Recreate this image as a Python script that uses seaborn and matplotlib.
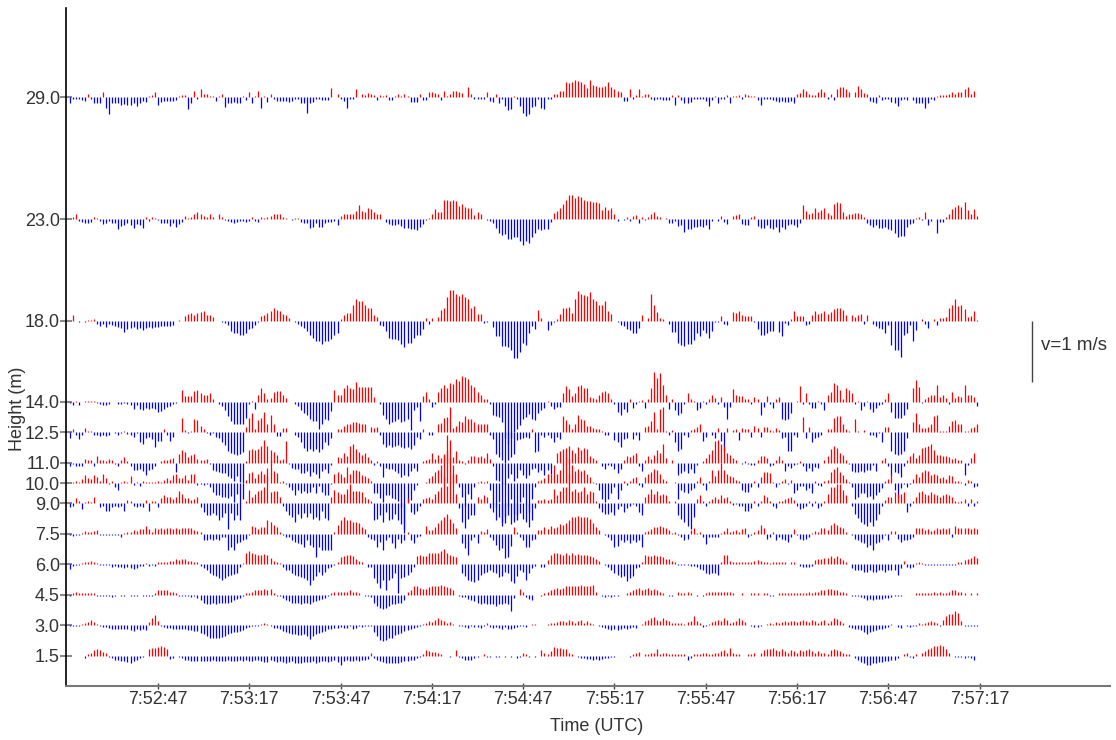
import numpy as np
import matplotlib
matplotlib.use("Agg")
import matplotlib.pyplot as plt
import seaborn as sns

# ---------------- data ----------------
heights = [29.0, 23.0, 18.0, 14.0, 12.5, 11.0, 10.0, 9.0, 7.5, 6.0, 4.5, 3.0, 1.5]
height_labels = ["29.0", "23.0", "18.0", "14.0", "12.5", "11.0", "10.0",
                 "9.0", "7.5", "6.0", "4.5", "3.0", "1.5"]
start_clock = (7, 52, 17)        # time origin of the x axis (UTC)
first_sample_s = 1.0             # first sample, seconds after origin
sample_dt_s = 1.0                # 1 Hz
tick_seconds = [30, 60, 90, 120, 150, 180, 210, 240, 270, 300]
height_per_ms = 3.0              # m of height axis per 1 m/s of velocity

# vertical velocity in cm/s, one value per second
w290 = [
 -9,-2,-3,-2,-4,-6,5,-2,-9,-9, -9,8,-17,-27,-10,-9,-10,-13,-11,-12,
 -13,-9,-14,-9,-6,-7,2,4,8,-13, -8,-6,-6,-6,-6,-4,2,3,3,-19,
 -10,10,-3,14,6,5,2,2,-6,2, 5,-16,-10,-9,-8,-9,-10,2,-4,8,
 -10,2,11,-17,2,-7,5,-3,-6,-6, -6,-6,-7,-6,-3,-3,-9,-10,-25,-9,
 -7,-3,-3,-4,-5,-5,16,0,6,-3, -6,-17,-3,-2,14,1,5,4,7,5,
 3,-5,3,2,4,-5,-5,2,6,2, 6,2,-7,-8,-8,5,-5,-5,9,8,
 7,6,-5,11,2,5,10,11,9,7, 0,17,5,-2,-3,-3,-3,8,-6,-7,
 5,-10,-2,-15,-21,-20,2,-3,-14,-26, -30,-28,-16,-15,-3,-18,-20,-2,-3,5,
 5,10,10,25,24,25,28,26,25,22, 15,28,20,18,17,17,18,25,17,13,
 10,8,-6,-6,14,-3,4,14,2,5, 5,-2,-5,-3,-3,-4,-4,-4,3,-13,
 4,-5,-9,-9,-7,-2,-2,-2,-3,-6, -15,-5,2,-9,-2,-2,3,-9,2,2,
 3,-3,5,4,2,2,-5,-13,-3,-2, -3,-4,-6,-8,-6,-7,-7,-6,-9,5,
 7,13,10,5,3,3,9,14,9,-3, 6,-5,13,17,17,13,9,0,8,18,
 14,7,5,-6,-8,-10,4,-5,-3,-3, -8,-10,-15,-5,-2,-5,0,-5,-9,-9,
 -10,-17,-9,-2,-5,2,3,3,4,5, 8,6,9,9,13,17,6,10,0]
w230 = [
 1,4,8,-3,-4,-7,-7,-4,3,2, -3,-8,-7,-3,-6,-6,-17,-11,-10,-7,
 -9,-14,-8,-10,-14,4,-3,3,2,-2, -7,-7,-7,-11,-7,-13,-8,-4,5,2,
 3,9,12,9,5,4,8,4,0,8, 3,-2,-3,-5,-7,-5,-3,-3,-4,-3,
 3,-3,-4,3,2,3,5,9,9,8, 3,2,0,-1,2,2,-4,-6,-6,-14,
 -13,-6,-13,-13,-7,-5,-4,-3,-10,5, 8,9,8,9,14,23,14,12,19,16,
 12,8,8,0,-4,-8,-10,-10,-8,-11, -14,-15,-17,-17,-18,-13,-8,-2,2,8,
 16,12,11,31,31,30,32,30,21,25, 20,19,19,6,11,8,0,-2,-3,-7,
 -14,-23,-26,-24,-32,-33,-29,-30,-36,-43, -36,-39,-29,-23,-17,-18,-17,-16,-4,10,
 14,19,25,31,39,39,34,38,36,31, 30,30,28,28,27,15,20,15,18,8,
 -3,1,-2,4,-3,5,6,-6,4,-2, 4,9,12,5,4,0,2,-6,-6,-3,
 -11,-10,-21,-17,-17,-13,-13,-11,-13,-10, -16,-3,0,-3,5,-4,-8,0,5,6,
 9,-8,-10,-10,3,5,-11,-14,-14,-10, -15,-16,-13,-21,-13,-16,-10,-8,-10,-13,
 -6,23,14,8,10,19,12,15,19,10, 6,24,28,27,12,5,9,8,10,10,
 9,4,-6,-10,-13,-10,-14,-15,-13,-17, -18,-23,-30,-27,-27,-13,-8,-7,2,3,
 -2,12,-10,-3,0,-22,-4,-4,4,9, 17,20,23,20,28,15,8,17,5]
w180 = [
 -1,10,0,-2,0,-2,1,1,2,-5, -9,-5,-10,-5,-8,-9,-10,-12,-19,-13,
 -12,-11,-13,-12,-16,-12,-11,-12,-11,-11, -9,-9,-9,-9,-8,0,1,0,7,11,
 13,10,12,14,15,10,10,6,0,-1, -2,-4,-8,-17,-20,-21,-23,-24,-20,-13,
 -12,-7,-2,7,10,13,15,21,17,15, 11,9,5,0,-2,-5,-9,-12,-17,-24,
 -28,-33,-33,-38,-33,-34,-30,-24,-20,3, 10,13,12,26,35,33,32,26,21,21,
 9,6,-8,-9,-17,-28,-31,-31,-32,-39, -44,-36,-37,-28,-24,-23,-14,4,-5,4,
 0,6,17,21,39,50,51,43,40,44, 38,35,21,24,11,11,-4,-2,0,-10,
 -25,-25,-42,-42,-43,-49,-61,-61,-51,-36, -40,-20,-9,-13,17,5,0,-15,-8,-2,
 3,11,21,21,22,13,35,48,44,42, 40,47,35,32,26,25,33,15,11,0,
 -2,-7,-9,-14,-16,-20,-20,-12,10,0, 5,43,26,14,5,3,0,-5,-19,-19,
 -36,-40,-41,-39,-38,-32,-21,-25,-16,-21, -28,-17,-2,-2,7,-5,-8,0,14,13,
 15,9,8,8,8,-2,-14,-23,-24,-21, -17,-17,0,-19,-26,-4,-8,3,15,7,
 7,8,-7,-5,9,15,11,13,15,11, 14,19,20,20,17,9,0,10,6,10,
 11,-5,9,0,-5,-9,-12,-14,-20,-8, -40,-49,-49,-60,-24,-21,-8,-34,-16,0,
 2,-5,-12,0,2,-8,4,5,6,21, 26,35,24,25,19,6,8,15,1]
w140 = [
 -2,-6,1,-5,0,2,2,2,2,-2, -3,-5,-5,-3,-1,0,-3,-3,-2,-3,
 -5,-11,-5,-11,-13,-10,-12,-10,-11,-16, -15,-11,-8,-7,-3,-2,0,19,9,9,
 10,17,19,15,11,11,14,5,0,-4, -7,-14,-24,-32,-36,-36,-37,-37,-27,-4,
 2,-11,11,23,15,4,7,16,17,17, 11,7,0,0,-4,-7,-14,-19,-22,-28,
 -31,-32,-45,-36,-28,-30,-15,19,12,11, 22,27,22,21,33,24,24,24,24,24,
 8,-1,-3,-21,-28,-37,-33,-31,-28,-33, -31,-28,-47,-14,-8,-31,10,16,5,-8,
 -3,16,22,27,23,31,30,37,34,42, 40,37,28,25,16,11,4,5,-4,-22,
 -23,-25,-33,-60,-70,-60,-50,-45,-38,-28, -25,-20,-28,-30,-18,-14,-10,2,-7,-11,
 -8,-8,15,26,21,10,14,26,27,23, 23,8,7,4,11,16,17,15,5,-3,
 -16,-21,-12,-16,4,-10,-4,1,3,-10, 5,23,49,39,48,28,11,-11,4,-14,
 -21,-19,-3,14,4,1,-14,-10,1,-4, 5,12,7,-4,8,-8,-28,-8,21,11,
 10,10,4,4,-3,8,4,-21,-8,9, -3,-10,4,8,-28,-30,-28,-19,0,1,
 26,-3,14,-3,-10,-10,2,-3,-14,11, 16,31,28,19,4,22,19,15,-4,2,
 -14,-7,2,-12,-16,-10,-5,-4,4,15, -16,-27,-27,-26,-21,-12,0,22,36,24,
 -2,4,8,12,11,27,8,11,7,-4, 16,7,10,8,28,11,11,8,-7]
w125 = [
 -9,6,-5,-11,-5,7,2,2,-4,-5, -6,-5,-6,-4,0,-2,-4,-2,2,-3,
 -4,-8,-2,-16,-19,-9,-8,-11,-24,-15, -15,5,-5,-15,-8,0,0,24,4,-2,
 2,21,20,10,5,-2,-4,-2,-8,-9, -16,-21,-30,-34,-36,-38,-35,-33,9,23,
 31,5,20,23,34,14,29,14,-6,-6, 7,7,0,0,-5,-8,-16,-26,-30,-28,
 -30,-27,-32,-28,-16,-21,-9,0,5,5, 11,13,14,17,17,16,13,13,0,9,
 7,8,-5,-19,-24,-21,-24,-22,-21,-24, -26,-25,-28,-21,-8,-11,5,0,-5,-5,
 0,13,16,23,25,41,7,10,19,17, 27,21,22,17,13,13,13,13,-5,-11,
 -35,-40,-45,-50,-45,-40,-35,-13,-11,-9, -8,-9,5,-32,-30,-5,-8,-5,-9,-16,
 -8,-11,27,20,13,6,14,29,22,20, 11,10,7,6,5,2,-4,-4,0,-13,
 -16,-24,-11,-9,0,-11,-5,-13,0,9, 10,18,34,6,39,41,2,-5,3,-16,
 -30,-28,-5,-8,3,6,9,14,-15,-8, 1,-5,-9,7,-15,-30,7,0,3,6,
 -13,7,6,5,-8,11,7,-8,9,9, 3,2,7,3,-9,-8,-30,-30,-5,-8,
 1,25,-9,9,-16,-10,-8,-5,0,5, 5,23,27,27,13,5,2,0,21,2,
 0,3,0,-4,-4,-8,-2,-16,9,9, -30,-35,-38,-35,-30,-10,0,17,31,14,
 7,7,9,13,27,29,2,2,2,11, 18,20,13,13,2,2,7,9,13]
w110 = [
 -5,-2,-5,-6,-5,6,4,4,-5,11, 4,4,2,6,4,-2,-5,4,10,2,
 -5,-12,-12,-10,-13,-20,-12,-11,-5,0, 2,4,4,6,8,-16,15,21,18,10,
 13,14,6,4,4,6,-2,-12,-13,-16, -17,-17,-22,-25,-30,-22,-32,-33,2,21,
 22,21,22,27,37,27,21,18,13,5, 6,35,-2,-8,-10,-11,-17,-17,-14,-22,
 -16,-19,-25,-14,-10,-17,-3,0,10,8, 16,11,27,31,22,18,13,16,10,5,
 -3,2,-5,-24,-8,-11,-11,-14,-17,-24, -20,-22,-13,-9,-13,0,2,4,6,16,
 6,13,8,13,45,38,9,19,4,2, -2,4,11,11,10,11,8,16,6,-6,
 -28,-30,-35,-35,-25,-18,-30,-25,-12,-20, -25,-20,-10,-8,-15,-12,-20,-12,-18,0,
 16,19,22,24,28,21,16,26,21,24, 22,11,8,4,0,-6,-10,-3,-6,-10,
 -17,-11,4,11,10,13,16,-5,-14,4, 11,6,13,21,16,31,8,0,5,0,
 -20,-17,-14,-17,-11,-17,-3,0,2,8, 15,21,35,38,30,28,16,13,8,4,
 0,-2,2,-2,-3,-3,4,11,11,8, -6,-3,4,11,4,-13,-5,-9,-3,-2,
 2,-5,-13,-8,-13,-7,-8,0,4,11, 22,27,24,16,13,4,-2,-13,-15,-15,
 -13,-15,-12,-12,-3,-13,0,5,8,-6, -20,-16,-17,-24,-5,4,11,16,8,13,
 24,26,27,31,21,13,13,11,11,10, 6,8,4,4,-20,-3,8,16,0]
w100 = [
 0,2,3,1,7,13,9,7,13,10, 4,14,9,-2,3,-7,-11,2,4,2,
 11,-4,1,-5,3,2,1,1,2,3, 2,5,9,5,13,15,9,9,13,5,
 15,15,-4,-1,-4,-2,-7,-15,-20,-19, -23,-23,-24,-22,-31,-18,-34,-26,5,16,
 18,9,15,20,14,25,37,20,16,2, 4,-2,-7,-11,-19,-12,-17,-13,-17,-15,
 -7,-17,-5,-15,-20,-20,-2,15,18,15, 10,26,15,22,21,20,13,11,9,4,
 -17,-17,-24,-31,-20,-20,-24,-27,-30,-39, -75,-31,-28,-12,-4,0,0,2,9,11,
 18,22,29,48,54,43,29,15,-7,-23, -37,-18,-26,-7,2,3,2,4,-12,-34,
 -39,-31,-64,-56,-37,-26,-64,-53,-31,-23, -34,-48,-27,-7,3,5,9,15,15,29,
 15,22,34,43,40,29,20,23,20,22, 15,10,2,-1,-12,-26,-31,-26,-17,-7,
 -27,-12,4,-4,4,9,10,-4,-7,10, 15,18,23,21,15,7,3,0,0,2,
 -26,-12,-15,-17,-12,-9,3,10,-4,-11, 4,21,11,21,33,21,15,11,10,5,
 4,-12,-15,-15,-7,3,-7,10,18,18, 16,2,-7,-2,3,7,-1,5,-17,-12,
 -5,-5,-12,-9,-17,4,-4,-5,4,5, 18,23,26,18,13,7,2,-7,-26,-23,
 -17,-17,-23,-22,-26,-20,-15,-9,4,7, 15,-12,-23,-9,-2,-7,-2,7,15,10,
 18,21,20,13,15,13,9,10,7,13, 11,4,3,2,-4,5,4,-7,-5]
w090 = [
 -6,-4,9,3,-9,2,3,2,11,0, -6,-4,-12,-12,-6,-4,-6,-4,-13,5,
 3,-5,-6,-4,-6,5,-12,3,4,-6, 9,13,11,11,7,11,20,15,9,9,
 5,7,11,-6,-15,-19,-20,-16,-20,-28, -23,-16,-42,-16,-28,-20,-28,0,4,22,
 11,16,21,22,26,45,18,21,20,10, -4,-12,-19,-23,-31,-17,-24,-16,-22,-16,
 -26,-22,-28,-12,-24,-28,10,22,18,15, 16,24,31,21,21,21,18,10,7,4,
 -28,-26,-20,-31,-15,-28,-26,-17,-28,-34, -48,9,-15,-17,-12,-4,7,9,10,7,
 16,21,26,43,29,37,48,15,-7,-30, -40,-25,-20,-20,10,7,13,10,-7,-15,
 -28,-23,-37,-33,-20,-34,-17,-28,-16,-26, -31,-39,-28,-7,5,5,7,5,7,23,
 13,21,26,27,48,21,24,18,20,26, 15,20,18,4,-7,-15,-17,-17,-15,-20,
 -9,-4,-15,-7,-4,-1,-4,-15,-20,10, 15,23,15,21,14,15,13,3,0,4,
 -20,-26,-31,-37,-42,-23,7,13,4,-4, 4,7,10,7,13,9,11,3,-2,-1,
 -4,-4,-12,-13,-7,4,-4,4,13,11, 4,-4,-7,4,4,7,9,10,6,-4,
 -9,-7,-4,3,-4,3,-7,-4,3,16, 27,26,32,31,22,14,0,-4,-17,-24,
 -31,-34,-37,-31,-37,-28,-17,-4,6,10, 10,18,16,15,18,-15,-4,4,10,18,
 21,16,14,18,15,13,10,14,15,13, 10,3,2,4,7,-4,7,-4,4]
w075 = [
 -2,-3,-2,-2,2,4,3,3,5,6, -2,-2,-2,-2,-2,-2,-2,-5,2,3,
 3,6,5,8,7,13,7,3,9,7, 9,7,10,10,7,9,7,10,10,9,
 10,6,5,3,-10,-10,-9,-10,-8,-10, -6,-5,-27,-21,-26,-16,-13,-10,-8,-2,
 13,11,7,11,11,22,20,14,11,3, -2,-5,-6,-10,-13,-16,-17,-22,-10,-19,
 -22,-38,-21,-27,-27,-27,-27,3,14,22, 28,22,22,20,20,17,11,7,-5,-8,
 -10,-21,-13,-27,-11,-5,-16,-24,-9,-16, -11,3,-11,-16,-5,-4,0,13,6,6,
 11,17,22,28,33,25,18,10,0,-16, -24,-35,-11,-5,-16,5,3,7,-5,-11,
 -19,-27,-24,-39,-38,-20,11,3,-5,-11, -21,-21,-11,-8,6,6,11,7,12,9,
 11,16,14,17,22,27,28,29,28,28, 27,24,18,11,6,0,-2,-5,-11,-21,
 -20,-11,-13,-11,-16,-11,-13,-11,-21,3, 5,7,11,11,13,11,9,6,2,3,
 -2,-5,-10,-8,6,9,2,3,-5,-17, -5,-6,-5,-6,2,5,10,3,5,6,
 3,7,9,-5,-2,3,6,14,9,-8, -5,3,-10,-6,-8,-10,-13,-5,7,-2,
 -9,-10,-9,-5,2,5,3,9,10,6, 14,17,14,11,9,3,0,-2,-8,-10,
 -13,-16,-21,-19,-27,-16,-13,-8,-2,-10, 5,5,-8,-13,-10,-10,-8,-5,9,10,
 9,6,7,5,6,9,7,9,7,10, -5,12,10,9,9,9,7,9,7]
w060 = [
 -8,-3,-2,-1,2,4,3,6,3,2, -2,-2,-2,-2,-4,-3,-4,-4,-7,-5,
 -7,-8,-6,-3,-3,2,-3,-2,-3,3, 4,4,4,5,6,8,7,9,8,6,
 6,4,3,-3,-7,-9,-14,-17,-20,-23, -26,-23,-20,-17,-16,-14,-4,2,19,21,
 18,17,15,15,17,15,10,6,4,2, -4,-9,-10,-15,-17,-19,-21,-23,-26,-34,
 -26,-20,-12,-17,-12,-7,-4,-2,4,12, 14,15,15,13,9,6,4,0,-4,-5,
 -23,-31,-39,-26,-42,-26,-23,-15,-48,-23, -21,-17,-12,-4,13,15,13,14,18,18,
 18,19,21,25,18,15,13,12,0,-15, -19,-26,-28,-30,-26,-17,-15,-12,-9,-12,
 -15,-21,-20,-12,-15,-28,-31,-20,-9,-12, -26,-15,-7,-3,0,-5,-4,7,15,19,
 18,17,15,18,15,18,15,17,15,15, 15,14,12,8,6,0,-2,-4,-10,-15,
 -17,-21,-20,-27,-23,-19,-7,-4,4,15, 14,13,15,14,14,12,8,8,6,3,
 -2,-1,-1,-1,-3,-3,-5,-8,-10,-15, -16,-14,-15,-17,4,15,15,6,4,4,
 3,4,3,4,4,6,7,6,4,3, 2,3,4,3,4,3,0,4,3,0,
 -3,-5,-4,-4,-3,7,8,9,10,11, 13,11,13,10,7,4,0,-7,-9,-10,
 -9,-12,-12,-9,-12,-12,-9,-10,-12,-10, -9,-9,-17,-7,6,-4,-7,-5,2,3,
 2,-2,-2,-2,-1,-1,-2,-2,-2,-1, -2,-2,3,4,7,9,11,13,11]
w045 = [
 -2,3,5,3,3,3,2,3,2,-2, -2,-2,-2,-2,-4,-2,-1,-2,-2,-1,
 -2,-2,-2,-1,-2,-2,-2,-2,3,8, 8,7,7,5,5,3,-2,-3,-3,-3,
 -4,-3,-5,-8,-14,-15,-15,-14,-15,-14, -13,-14,-13,-12,-8,-7,-5,-3,3,3,
 5,7,8,7,9,7,9,3,-2,-3, -5,-9,-11,-13,-14,-13,-15,-14,-13,-15,
 -12,-11,-9,-7,-5,-3,3,4,4,4, 5,5,7,5,5,3,0,-3,-3,-4,
 -14,-19,-22,-23,-22,-19,-16,-15,-14,-13, -9,5,8,14,15,11,9,10,13,14,
 14,15,16,14,13,11,8,0,-3,-4, -4,-7,-8,-11,-14,-15,-14,-16,-15,-16,
 -18,-15,-16,-14,-16,-27,-6,0,9,5, -4,-7,-8,0,0,-2,3,5,7,9,
 11,9,11,14,14,14,15,14,16,14, 14,15,16,5,0,-3,-4,-3,-4,-3,
 -2,0,0,3,5,8,9,11,8,9, 11,8,9,7,4,3,0,-3,-3,0,
 4,3,2,4,3,-1,-2,-1,-2,3, 4,4,4,4,5,4,5,5,3,0,
 0,2,0,0,2,3,2,-1,2,3, -2,-2,-1,3,2,2,2,3,2,3,
 2,3,3,4,3,4,5,7,8,9, 9,8,7,5,4,3,0,-2,-3,-3,
 -4,-5,-9,-7,-8,-7,-7,-7,-6,-5, -4,-3,-2,-2,-1,0,0,0,3,3,
 2,3,3,3,4,3,4,3,3,5, 7,7,5,4,3,0,2,0,2]
w030 = [
 -2,-2,-2,-2,1,3,5,9,5,1, -2,-3,-3,-4,-6,-7,-6,-6,-6,-7,
 -8,-10,-7,-8,-7,-8,5,12,16,7, -2,-3,-4,-4,-6,-6,-6,-7,-7,-8,
 -8,-10,-10,-13,-15,-18,-21,-21,-22,-21, -19,-18,-15,-13,-12,-12,-10,-8,-4,-3,
 -2,-2,-1,2,4,2,-2,-4,-4,-7, -10,-12,-13,-14,-15,-17,-17,-15,-18,-23,
 -18,-15,-13,-12,-10,-7,-6,-4,-4,-3, -4,-4,-2,-6,-4,-2,-3,-2,-2,-2,
 -11,-18,-24,-26,-24,-22,-21,-17,-15,-13, -10,-8,-6,-4,-3,-2,2,4,7,5,
 9,12,9,7,4,5,2,0,-2,-2, -3,-4,-2,-3,-3,-4,-2,4,-3,-4,
 -3,-4,-6,-3,-6,-6,-4,-3,-2,-2, -3,0,2,2,0,0,0,2,4,4,
 5,7,7,5,9,7,4,7,9,4, 7,4,2,0,-2,-3,-4,-6,-8,-7,
 -8,-6,-4,-6,-4,-3,-4,0,2,7, 9,12,14,9,7,12,9,7,4,4,
 4,3,2,5,7,15,7,4,-3,-2, 2,5,7,9,7,12,9,4,5,7,
 12,9,5,0,-2,-3,-3,-2,0,2, 4,2,5,4,5,7,5,7,7,5,
 7,8,7,5,8,7,4,7,9,3, 7,12,10,7,4,0,-3,-4,-6,-7,
 -8,-11,-14,-11,-10,-8,-7,-6,-4,-3, 2,0,-3,-4,0,-2,-3,-2,-2,4,
 2,3,5,7,5,4,-2,9,15,18, 19,23,20,7,-2,-2,-2,-2,-2]
w015 = [
 -1,-1,-1,-1,-1,-4,2,4,9,10, 9,6,4,-2,-4,-7,-8,-9,-9,-11,
 -13,-9,-7,-4,-2,0,10,13,13,14, 15,14,10,-6,-4,-1,-2,-4,-7,-8,
 -9,-9,-9,-9,-9,-9,-9,-8,-9,-9, -9,-9,-8,-9,-9,-9,-8,-9,-8,-9,
 -9,-7,-8,-9,-11,-11,-8,-9,-11,-9, -11,-12,-11,-9,-12,-13,-13,-11,-11,-11,
 -9,-12,-11,-9,-9,-11,-9,-8,-11,-15, -9,-8,-9,-9,-8,-9,-8,-7,-6,4,
 -4,-7,-9,-11,-13,-13,-12,-13,-12,-11, -9,-9,-8,-7,-4,-2,2,9,7,6,
 6,4,2,-1,-1,-2,-1,9,-2,-4, -7,-8,-8,-4,-2,-1,2,-2,-2,-1,
 -2,-2,-1,-2,-1,-2,-1,-4,-2,4, 2,-2,-1,-2,-1,9,4,2,7,14,
 13,13,11,10,4,2,0,-2,-4,-4, -6,-6,-7,-6,-7,-6,-4,-4,-2,-2,
 -1,-1,-1,0,-2,2,4,6,-1,3, 2,4,4,10,2,4,4,2,2,3,
 2,2,2,-7,-4,2,3,2,4,4, 2,3,4,5,7,9,5,13,4,3,
 2,-1,-1,2,3,4,0,5,9,11, 10,13,9,7,11,7,4,9,7,4,
 9,7,9,10,7,4,7,5,4,3, 9,11,9,7,4,3,2,0,-4,-8,
 -11,-13,-16,-15,-13,-12,-11,-11,-9,-9, -8,-7,-4,-1,2,4,-2,-4,2,0,
 4,7,11,13,15,16,18,15,11,4, 0,-2,-2,-2,-4,-2,-4,-7,0]

series = [w290, w230, w180, w140, w125, w110, w100, w090, w075, w060, w045, w030, w015]

# ---------------- style ----------------
sns.set_theme(style="ticks")
plt.rcParams['font.family'] = ['Liberation Sans', 'DejaVu Sans']
TXT = '#333333'
FS = 13

fig = plt.figure(figsize=(11.16, 7.40), dpi=100)
ax = fig.add_axes([66/1116, 1 - 686/740, 1044/1116, 678/740])

for h, w in zip(heights, series):
    v = np.asarray(w, dtype=float) / 100.0
    t = first_sample_s + sample_dt_s * np.arange(len(v))
    up = v > 0
    dn = v < 0
    ax.vlines(t[up], h, h + height_per_ms * v[up], color='#ff0000', lw=0.9)
    ax.vlines(t[dn], h, h + height_per_ms * v[dn], color='#0000ff', lw=0.9)

# velocity scale bar: 1 m/s
ax.vlines([317.1], 15.0, 15.0 + height_per_ms * 1.0, color='#444444', lw=1.0)
ax.text(320.2, 16.76, "v=1 m/s", fontsize=13.5, color=TXT, ha='left', va='center')

ax.set_xlim(-0.2, 342.8)
ax.set_ylim(0, 33.4)


def clock(s):
    h0, m0, s0 = start_clock
    tot = h0 * 3600 + m0 * 60 + s0 + int(s)
    return f"{tot // 3600}:{(tot % 3600) // 60:02d}:{tot % 60:02d}"


ax.set_xticks(tick_seconds, [clock(s) for s in tick_seconds])
ax.set_yticks(heights, height_labels)
ax.tick_params(axis='x', direction='inout', length=5, width=1.0, color='#444444',
               pad=1, labelsize=FS, labelcolor=TXT, bottom=True)
ax.tick_params(axis='y', direction='inout', length=8, width=1.5, color='#8a8a8a',
               pad=0.5, labelsize=FS, labelcolor=TXT, left=True)

sns.despine(ax=ax)
ax.spines['left'].set_color('black')
ax.spines['left'].set_linewidth(1.2)
ax.spines['bottom'].set_color('#777777')
ax.spines['bottom'].set_linewidth(1.5)
ax.grid(False)

ax.set_xlabel("Time (UTC)", fontsize=FS, color=TXT, va='center')
ax.xaxis.set_label_coords((597 - 66) / 1044, (686 - 726.5) / 678)
ax.set_ylabel("Height (m)", fontsize=FS, color=TXT, va='center')
ax.yaxis.set_label_coords((18 - 66) / 1044, (686 - 409) / 678)

fig.savefig("out.png", dpi=100)
